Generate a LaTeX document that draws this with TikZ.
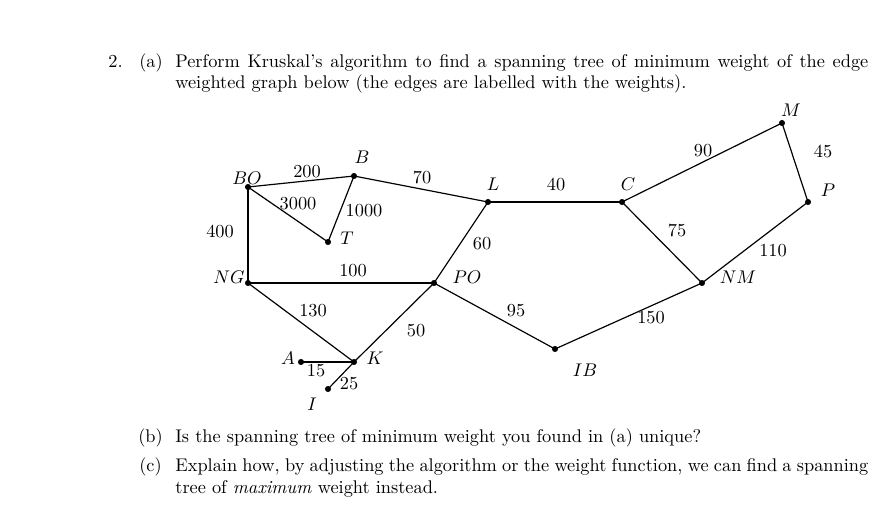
\documentclass[tikz,border=0pt]{standalone}
\usepackage{amsmath,amssymb}
\usepackage{tikz}
\usepackage{xcolor}
\usetikzlibrary{positioning, calc}

\begin{document}
\begin{tikzpicture}[
    x=0.5455pt, y=-0.5455pt,
    vertex/.style={circle, fill=black, inner sep=0pt, minimum size=3.3pt},
    edge/.style={line width=0.65pt, black},
    weight/.style={inner sep=0pt, font=\normalsize},
    vlabel/.style={inner sep=0pt},
    qtext/.style={anchor=base west, inner sep=0pt, text width=378pt, align=justify}
]
\useasboundingbox (0,0) rectangle (889,508);

% Question text
\node[anchor=base west, inner sep=0pt] (num) at (108,67) {2.};
\node[anchor=base west, inner sep=0pt] (parta) at (139,67) {(a)};
\node[qtext] (texta) at (175,67) {Perform Kruskal's algorithm to find a spanning tree of minimum weight of the edge\linebreak weighted graph below (the edges are labelled with the weights).};

% Vertices
\node[vertex] (BO) at (248,187) {};
\node[vertex] (B) at (354,176) {};
\node[vertex] (T) at (328,242) {};
\node[vertex] (NG) at (248,283) {};
\node[vertex] (L) at (488,202) {};
\node[vertex] (PO) at (434,283) {};
\node[vertex] (C) at (622,202) {};
\node[vertex] (M) at (782,123) {};
\node[vertex] (P) at (808,202) {};
\node[vertex] (NM) at (702,283) {};
\node[vertex] (IB) at (555,349) {};
\node[vertex] (K) at (354,362) {};
\node[vertex] (A) at (301,362) {};
\node[vertex] (I) at (328,389) {};

% Vertex labels
\node[vlabel] at (247,178) {$BO$};
\node[vlabel] at (362,157) {$B$};
\node[vlabel] at (347,238) {$T$};
\node[vlabel] at (229,277) {$NG$};
\node[vlabel] at (493,184) {$L$};
\node[vlabel] at (467,277) {$PO$};
\node[vlabel] at (628,184) {$C$};
\node[vlabel] at (791,110) {$M$};
\node[vlabel] at (828,190) {$P$};
\node[vlabel] at (738,277) {$NM$};
\node[vlabel] at (585,370) {$IB$};
\node[vlabel] at (375,358) {$K$};
\node[vlabel] at (288,358) {$A$};
\node[vlabel] at (312,404) {$I$};

% Edges
\draw[edge] (BO.center) -- (B.center);
\draw[edge] (B.center) -- (L.center);
\draw[edge] (BO.center) -- (T.center);
\draw[edge] (B.center) -- (T.center);
\draw[edge] (BO.center) -- (NG.center);
\draw[edge] (NG.center) -- (PO.center);
\draw[edge] (L.center) -- (PO.center);
\draw[edge] (L.center) -- (C.center);
\draw[edge] (C.center) -- (M.center);
\draw[edge] (M.center) -- (P.center);
\draw[edge] (C.center) -- (NM.center);
\draw[edge] (P.center) -- (NM.center);
\draw[edge] (PO.center) -- (IB.center);
\draw[edge] (IB.center) -- (NM.center);
\draw[edge] (NG.center) -- (K.center);
\draw[edge] (PO.center) -- (K.center);
\draw[edge] (A.center) -- (K.center);
\draw[edge] (K.center) -- (I.center);

% Weights
\node[weight] at (307,172) {200};
\node[weight] at (422,178) {70};
\node[weight] at (298,204) {3000};
\node[weight] at (364,211) {1000};
\node[weight] at (220,231) {400};
\node[weight] at (482,244) {60};
\node[weight] at (353,271) {100};
\node[weight] at (556,184) {40};
\node[weight] at (703,151) {90};
\node[weight] at (823,151) {45};
\node[weight] at (677,231) {75};
\node[weight] at (773,251) {110};
\node[weight] at (516,311) {95};
\node[weight] at (651,318) {150};
\node[weight] at (313,311) {130};
\node[weight] at (416,331) {50};
\node[weight] at (316,371) {15};
\node[weight] at (349,384) {25};

% Parts (b) and (c)
\node[anchor=base west, inner sep=0pt] (partb) at (138,442) {(b)};
\node[qtext] (textb) at (175,442) {Is the spanning tree of minimum weight you found in (a) unique?};
\node[anchor=base west, inner sep=0pt] (partc) at (139,471) {(c)};
\node[qtext] (textc) at (175,471) {Explain how, by adjusting the algorithm or the weight function, we can find a spanning\linebreak tree of \emph{maximum} weight instead.};

\end{tikzpicture}
\end{document}
